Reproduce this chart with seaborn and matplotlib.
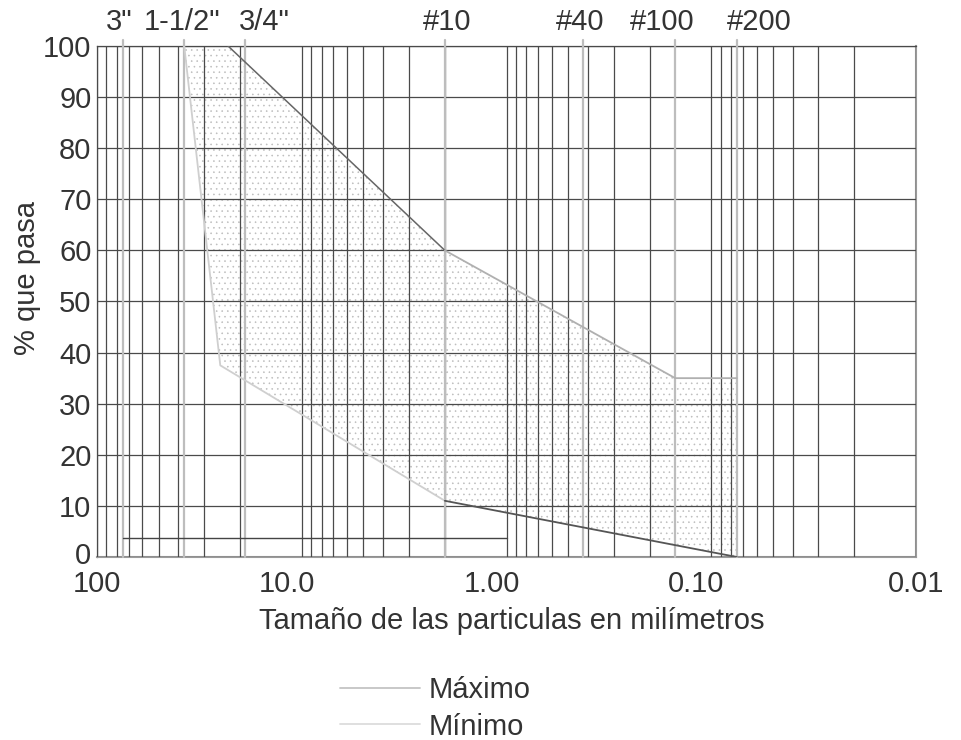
import matplotlib
matplotlib.use("Agg")
import matplotlib.pyplot as plt
import matplotlib.transforms as mtransforms
from matplotlib.lines import Line2D
from matplotlib.ticker import FixedFormatter, FixedLocator, LogLocator, NullFormatter
import numpy as np
import pandas as pd
import seaborn as sns

# grading band (particle size in mm, % passing)
max_size = [22.9, 2.0, 0.15, 0.075]
max_pass = [100, 60, 35, 35]
min_size = [37.5, 25.0, 2.0, 0.075]
min_pass = [100, 37.5, 11, 0]

# sieve sizes shown on top, and where their names sit
sieve_size = [75.0, 37.5, 19.0, 2.0, 0.425, 0.15, 0.075]
sieve_label = ['3"', '1-1/2"', '3/4"', "#10", "#40", "#100", "#200"]
sieve_label_at = [78.1, 38.4, 15.3, 1.94, 0.437, 0.174, 0.0584]

# reference line near the bottom
ref_size = [75.0, 1.0]
ref_pass = [3.7, 3.7]

x_ticks = [100, 10, 1, 0.1, 0.01]
x_tick_labels = ["100", "10.0", "1.00", "0.10", "0.01"]
y_ticks = list(range(0, 101, 10))

FS = 21

sns.set_theme(style="white")
plt.rcParams["font.family"] = ["Liberation Sans", "DejaVu Sans"]
plt.rcParams["hatch.linewidth"] = 0.4

fig = plt.figure(figsize=(9.61, 7.40), dpi=100)
ax = fig.add_axes([97 / 961, 1 - 557 / 740, 819 / 961, 511 / 740])
ax.set_xscale("log")
ax.set_xlim(100, 0.01)
ax.set_ylim(0, 100)

grid_c = "#4a4a4a"
text_c = "#333333"

# band fill (stippled)
band_x = max_size + min_size[::-1]
band_y = max_pass + min_pass[::-1]
ax.fill(band_x, band_y, facecolor="none", edgecolor="#bcbcbc", linewidth=0,
        hatch="...", zorder=1)

# grid
ax.xaxis.set_major_locator(FixedLocator(x_ticks))
ax.xaxis.set_major_formatter(FixedFormatter(x_tick_labels))
ax.xaxis.set_minor_locator(LogLocator(base=10, subs=np.arange(2, 10), numticks=20))
ax.xaxis.set_minor_formatter(NullFormatter())
ax.set_yticks(y_ticks)
ax.grid(True, which="both", axis="both", color=grid_c, linewidth=0.9, zorder=2)
ax.set_axisbelow(False)

# sieve lines (extend a little above the frame)
for s in sieve_size:
    ax.axvline(s, ymin=0, ymax=1.012, color="#bdbdbd", linewidth=1.6, zorder=3, clip_on=False)

trans = mtransforms.blended_transform_factory(ax.transData, ax.transAxes)
for pos, lab in zip(sieve_label_at, sieve_label):
    ax.text(pos, 1.02, lab, transform=trans, ha="center", va="bottom",
            fontsize=FS, color=text_c)

# curves
max_df = pd.DataFrame({"size": max_size, "pass": max_pass})
min_df = pd.DataFrame({"size": min_size, "pass": min_pass})
sns.lineplot(data=max_df.iloc[:2], x="size", y="pass", sort=False, color="#666666",
             linewidth=1.1, ax=ax, zorder=4)
sns.lineplot(data=max_df.iloc[1:], x="size", y="pass", sort=False, color="#b0b0b0",
             linewidth=1.3, ax=ax, zorder=4)
sns.lineplot(data=min_df.iloc[:3], x="size", y="pass", sort=False, color="#cfcfcf",
             linewidth=1.3, ax=ax, zorder=4)
sns.lineplot(data=min_df.iloc[2:], x="size", y="pass", sort=False, color="#555555",
             linewidth=1.3, ax=ax, zorder=4)
ax.plot(ref_size, ref_pass, color="#444444", linewidth=1.0, zorder=4)

# frame
for side in ["top", "left"]:
    ax.spines[side].set_color(grid_c)
    ax.spines[side].set_linewidth(0.9)
for side in ["bottom", "right"]:
    ax.spines[side].set_color("#9a9a9a")
    ax.spines[side].set_linewidth(1.5)

ax.tick_params(axis="both", which="both", length=0, labelsize=FS, labelcolor=text_c)
ax.tick_params(axis="x", pad=9)
ax.tick_params(axis="y", pad=4)

# middle decade labels sit a bit left of their lines in the original
shift = mtransforms.ScaledTranslation(-15 / 100, 0, fig.dpi_scale_trans)
for lab in ax.get_xticklabels()[1:4]:
    lab.set_transform(lab.get_transform() + shift)
# the "0" label sits slightly raised
up = mtransforms.ScaledTranslation(0, 4 / 100, fig.dpi_scale_trans)
ylab0 = ax.get_yticklabels()[0]
ylab0.set_transform(ylab0.get_transform() + up)

ax.set_xlabel("Tamaño de las particulas en milímetros", fontsize=FS, color=text_c)
ax.set_ylabel("% que pasa", fontsize=FS, color=text_c)
ax.xaxis.set_label_coords(0.507, -0.098)
ax.yaxis.set_label_coords(-0.068, 0.546)

handles = [
    Line2D([0], [0], color="#c4c4c4", linewidth=1.3),
    Line2D([0], [0], color="#dcdcdc", linewidth=1.3),
]
fig.legend(handles, ["Máximo", "Mínimo"], loc="center left",
           bbox_to_anchor=(0.326, 0.043), frameon=False, fontsize=FS,
           handlelength=2.75, handletextpad=0.3, labelspacing=0.3,
           labelcolor=text_c)

fig.savefig("out.png", dpi=100)
